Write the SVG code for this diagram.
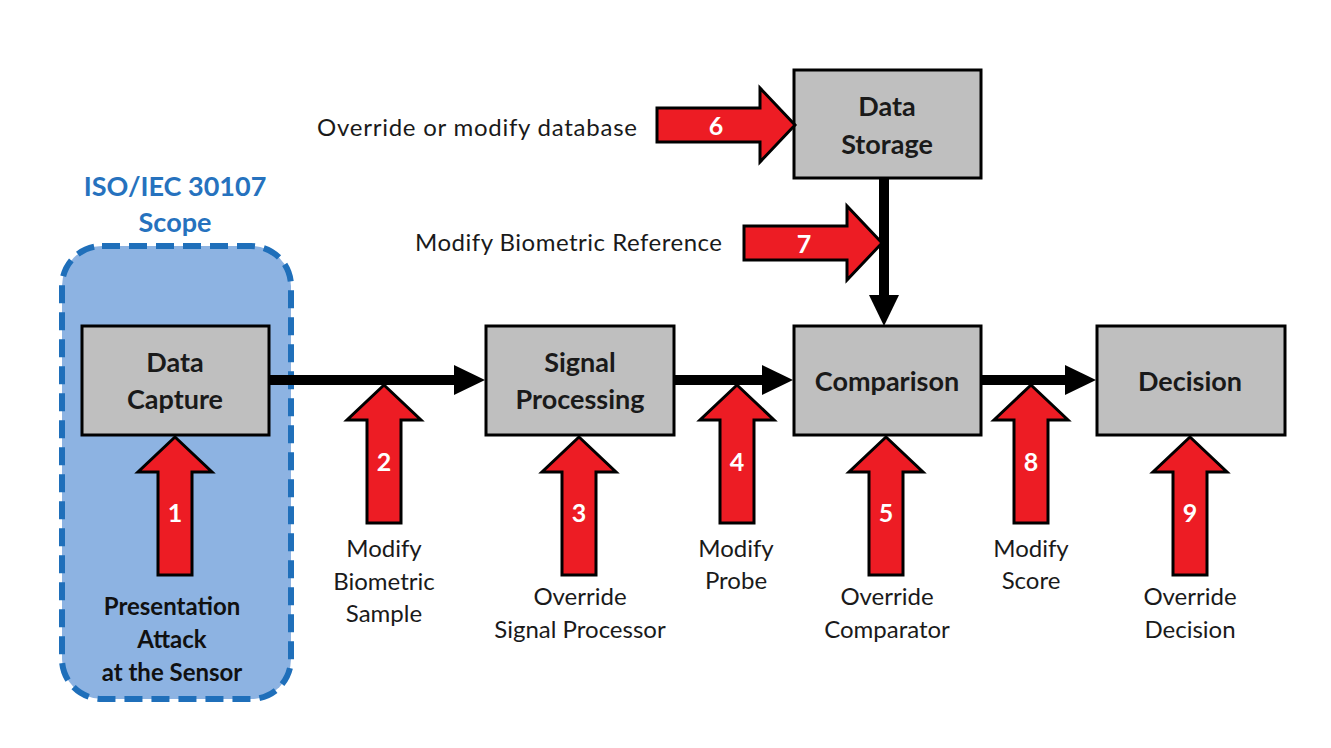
<svg xmlns="http://www.w3.org/2000/svg" xmlns:xlink="http://www.w3.org/1999/xlink" width="1331" height="748" viewBox="0 0 1331 748">
<style>
.box{fill:#BFBFBF;stroke:#000;stroke-width:3}
.bl{font-family:Lato,"Liberation Sans",sans-serif;font-weight:bold;font-size:27px;fill:#1a1a1a;text-anchor:middle}
.lbl{font-family:Lato,"Liberation Sans",sans-serif;font-size:24px;fill:#1a1a1a;text-anchor:middle}
.num{font-family:Lato,"Liberation Sans",sans-serif;font-weight:bold;font-size:25px;fill:#fff;text-anchor:middle}
.pa{font-family:Lato,"Liberation Sans",sans-serif;font-weight:bold;font-size:24px;fill:#111;text-anchor:middle}
.ttl{font-family:Lato,"Liberation Sans",sans-serif;font-weight:bold;font-size:27px;fill:#2672BE;text-anchor:middle}
.conn{stroke:#000;stroke-width:10;fill:none}
.red{fill:#ED1C24;stroke:#000;stroke-width:3;stroke-linejoin:miter}
</style>
<defs>
<marker id="ah" viewBox="0 0 31 30" refX="1" refY="15" markerWidth="31" markerHeight="30" markerUnits="userSpaceOnUse" orient="auto">
<path d="M0,0 L31,15 L0,30 Z" fill="#000"/>
</marker>
<path id="up" d="M0,0 L37,35 L17,35 L17,138 L-17,138 L-17,35 L-37,35 Z"/>
</defs>
<rect width="1331" height="748" fill="#fff"/>
<g id="scope">
<rect x="62" y="246" width="229" height="453" rx="40" fill="#8DB3E2" stroke="#1F6FBA" stroke-width="6" stroke-dasharray="18 9"/>
<text class="ttl" x="175" y="196">ISO/IEC 30107</text>
<text class="ttl" x="175" y="232">Scope</text>
</g>
<g id="connectors">
<line class="conn" x1="269" y1="380" x2="455" y2="380" marker-end="url(#ah)"/>
<line class="conn" x1="674" y1="380" x2="763" y2="380" marker-end="url(#ah)"/>
<line class="conn" x1="981" y1="380" x2="1066" y2="380" marker-end="url(#ah)"/>
<line class="conn" x1="884" y1="178" x2="884" y2="296" marker-end="url(#ah)"/>
</g>
<g id="data-capture">
<rect class="box" x="82" y="326" width="187" height="109"/>
<text class="bl" x="175" y="372">Data</text>
<text class="bl" x="175" y="409">Capture</text>
</g>
<g id="signal-processing">
<rect class="box" x="486" y="326" width="188" height="109"/>
<text class="bl" x="580" y="372">Signal</text>
<text class="bl" x="580" y="409">Processing</text>
</g>
<g id="comparison">
<rect class="box" x="794" y="326" width="187" height="109"/>
<text class="bl" x="887" y="391">Comparison</text>
</g>
<g id="decision">
<rect class="box" x="1097" y="326" width="188" height="109"/>
<text class="bl" x="1190" y="391">Decision</text>
</g>
<g id="data-storage">
<rect class="box" x="794" y="70" width="187" height="108"/>
<text class="bl" x="887" y="116">Data</text>
<text class="bl" x="887" y="154">Storage</text>
</g>
<g id="attack-1">
<use href="#up" class="red" transform="translate(175,437)"/>
<text class="num" x="175" y="522">1</text>
<text class="pa" x="172" y="615">Presentation</text>
<text class="pa" x="172" y="648">Attack</text>
<text class="pa" x="172" y="681">at the Sensor</text>
</g>
<g id="attack-2">
<use href="#up" class="red" transform="translate(384,385)"/>
<text class="num" x="384" y="471">2</text>
<text class="lbl" x="384" y="557">Modify</text>
<text class="lbl" x="384" y="590">Biometric</text>
<text class="lbl" x="384" y="622">Sample</text>
</g>
<g id="attack-3">
<use href="#up" class="red" transform="translate(579,437)"/>
<text class="num" x="579" y="522">3</text>
<text class="lbl" x="580" y="605">Override</text>
<text class="lbl" x="580" y="638">Signal Processor</text>
</g>
<g id="attack-4">
<use href="#up" class="red" transform="translate(737,385)"/>
<text class="num" x="737" y="471">4</text>
<text class="lbl" x="736" y="557">Modify</text>
<text class="lbl" x="736" y="589">Probe</text>
</g>
<g id="attack-5">
<use href="#up" class="red" transform="translate(886,437)"/>
<text class="num" x="886" y="522">5</text>
<text class="lbl" x="887" y="605">Override</text>
<text class="lbl" x="887" y="638">Comparator</text>
</g>
<g id="attack-6">
<use href="#up" class="red" transform="translate(795,125) rotate(90)"/>
<text class="num" x="716" y="135">6</text>
<text class="lbl" x="637" y="136" style="text-anchor:end" textLength="320">Override or modify database</text>
</g>
<g id="attack-7">
<use href="#up" class="red" transform="translate(882,243) rotate(90)"/>
<text class="num" x="804" y="253">7</text>
<text class="lbl" x="722" y="251" style="text-anchor:end" textLength="307">Modify Biometric Reference</text>
</g>
<g id="attack-8">
<use href="#up" class="red" transform="translate(1031,385)"/>
<text class="num" x="1031" y="471">8</text>
<text class="lbl" x="1031" y="557">Modify</text>
<text class="lbl" x="1031" y="589">Score</text>
</g>
<g id="attack-9">
<use href="#up" class="red" transform="translate(1190,437)"/>
<text class="num" x="1190" y="522">9</text>
<text class="lbl" x="1190" y="605">Override</text>
<text class="lbl" x="1190" y="638">Decision</text>
</g>
</svg>
